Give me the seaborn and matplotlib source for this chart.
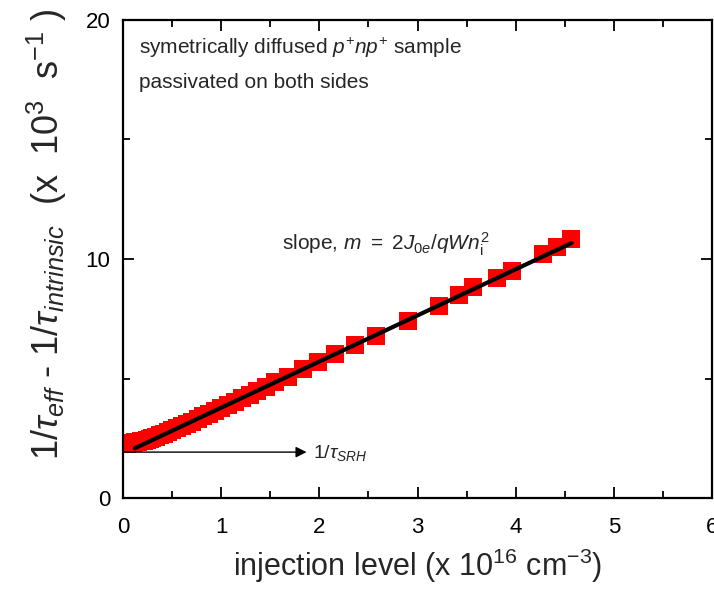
import numpy as np
import pandas as pd
import matplotlib
matplotlib.use("Agg")
import matplotlib.pyplot as plt
import seaborn as sns

# data (x in 1e16 cm^-3, y in 1e3 s^-1)
injection = [0.02, 0.04, 0.06, 0.08, 0.10, 0.12, 0.15, 0.18, 0.21, 0.24, 0.27, 0.30,
             0.34, 0.38, 0.42, 0.46, 0.50, 0.55, 0.60, 0.65, 0.70, 0.76, 0.82, 0.88,
             0.94, 1.00, 1.07, 1.14, 1.21, 1.29, 1.37, 1.46, 1.55, 1.68, 1.83, 1.99,
             2.16, 2.36, 2.58, 2.90, 3.22, 3.42, 3.57, 3.81, 3.96, 4.28, 4.42, 4.56]
inv_tau = [2.27, 2.28, 2.29, 2.30, 2.31, 2.33, 2.35, 2.37, 2.40, 2.43, 2.46, 2.50,
           2.56, 2.62, 2.69, 2.76, 2.83, 2.92, 3.01, 3.10, 3.19, 3.31, 3.42, 3.53,
           3.65, 3.76, 3.90, 4.03, 4.17, 4.32, 4.47, 4.65, 4.84, 5.08, 5.38, 5.68,
           6.01, 6.40, 6.78, 7.40, 8.05, 8.50, 8.83, 9.20, 9.50, 10.20, 10.50, 10.84]
fit_x = [0.12, 4.57]
fit_y = [2.08, 10.67]
srh_level = 1.92
arrow_end = 1.87

xticks = [0, 1, 2, 3, 4, 5, 6]
yticks = [0, 10, 20]

sns.set_style("ticks")
plt.rcParams['font.family'] = ['Liberation Sans', 'DejaVu Sans']
plt.rcParams['mathtext.fontset'] = 'custom'
plt.rcParams['mathtext.rm'] = 'Liberation Sans'
plt.rcParams['mathtext.it'] = 'Liberation Sans:italic'
plt.rcParams['mathtext.bf'] = 'Liberation Sans:bold'

fig = plt.figure(figsize=(7.14, 6.08), dpi=100)
ax = fig.add_axes([123/714, 1 - 498/608, (712-123)/714, (498-20)/608])

df = pd.DataFrame({"x": injection, "y": inv_tau})
sns.scatterplot(data=df, x="x", y="y", marker="s", s=150, color="#ff0000",
                edgecolor="#ff0000", linewidth=0, ax=ax, zorder=2)
fit = pd.DataFrame({"x": fit_x, "y": fit_y})
sns.lineplot(data=fit, x="x", y="y", color="black", lw=3.0, ax=ax, zorder=3)

ax.annotate("", xy=(arrow_end, srh_level), xytext=(0, srh_level),
            arrowprops=dict(arrowstyle="-|>", color="black", lw=1.0,
                            mutation_scale=16, shrinkA=0, shrinkB=0))
ax.text(arrow_end + 0.07, srh_level - 0.05, r"1/$\tau_{SRH}$", fontsize=14,
        ha="left", va="center")

ax.text(1.62, 10.05, r"slope, $m\ =\ 2J_{0e}/qWn_{\mathrm{i}}^{2}$", fontsize=15,
        ha="left", va="bottom")

ax.text(0.16, 18.83, r"symetrically diffused $p^{+}np^{+}$ sample", fontsize=15,
        ha="left", va="center")
ax.text(0.16, 17.40, "passivated on both sides", fontsize=15, ha="left", va="center")

ax.set_xlim(0, 6)
ax.set_ylim(0, 20)
ax.set_xticks(xticks)
ax.set_yticks(yticks)
ax.set_xticks([0.5, 1.5, 2.5, 3.5, 4.5, 5.5], minor=True)
ax.set_yticks([5, 15], minor=True)
ax.tick_params(which="both", direction="in", top=True, right=True, width=1.3,
               labelsize=16, colors="black")
ax.tick_params(axis="x", which="major", pad=14)
ax.tick_params(axis="y", which="major", pad=9)
ax.tick_params(which="major", length=8)
ax.tick_params(which="minor", length=5)
for s in ax.spines.values():
    s.set_linewidth(1.6)
    s.set_color("black")

ax.set_xlabel(r"injection level (x 10$^{16}$ cm$^{-3}$)", fontsize=22, labelpad=6)
ax.set_ylabel(r"1/$\tau_{eff}$ - 1/$\tau_{intrinsic}$  (x  10$^{3}$  s$^{-1}$ )",
              fontsize=26)
ax.yaxis.set_label_coords(-0.092, 0.552)

fig.savefig("out.png", dpi=100)
